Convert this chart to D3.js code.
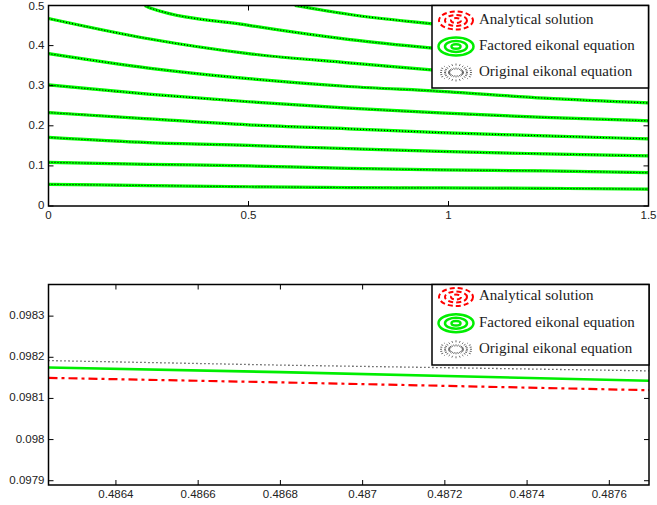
<!DOCTYPE html>
<html>
<head>
<meta charset="utf-8">
<script src="https://cdn.jsdelivr.net/npm/d3@7"></script>
<style>
  body { margin: 0; background: #fff; }
  svg { display: block; }
</style>
</head>
<body>
<div id="chart"></div>
<script>
// ---- data: top panel (contours of travel time) ----
const topXTicks = [0, 0.5, 1, 1.5];
const topYTicks = [0, 0.1, 0.2, 0.3, 0.4, 0.5];
const contourX = [0, 0.25, 0.5, 0.75, 0.98, 1.24, 1.5];
const contour1 = [0.054, 0.051, 0.048, 0.046, 0.045, 0.044, 0.042];
const contour2 = [0.109, 0.104, 0.100, 0.094, 0.090, 0.0875, 0.083];
const contour3 = [0.171, 0.158, 0.151, 0.143, 0.136, 0.130, 0.125];
const contour4 = [0.233, 0.2175, 0.2025, 0.1925, 0.183, 0.175, 0.1675];
const contour5 = [0.302, 0.279, 0.260, 0.244, 0.232, 0.221, 0.2125];
const contour6 = [0.380, 0.344, 0.3175, 0.298, 0.286, 0.269, 0.257];
const contour7 = [0.4675, 0.417, 0.380, 0.357, 0.3375, 0.320, 0.305];
const contour8X = [0.241, 0.254, 0.504, 0.754, 0.979, 1.236, 1.5];
const contour8 = [0.5, 0.494, 0.450, 0.415, 0.392, 0.370, 0.355];
const contour9X = [0.616, 0.754, 0.979, 1.236, 1.5];
const contour9 = [0.5, 0.4775, 0.4525, 0.430, 0.410];

// ---- data: bottom panel (zoom on one contour) ----
const zoomXTicks = [0.4864, 0.4866, 0.4868, 0.4870, 0.4872, 0.4874, 0.4876];
const zoomYTicks = [0.0979, 0.0980, 0.0981, 0.0982, 0.0983];
const zoomX = [0.486236, 0.4868, 0.4876965];
const analytical = [0.098150, 0.098139, 0.098120];
const factored = [0.098175, 0.098164, 0.098143];
const original = [0.098192, 0.098181, 0.098167];

const legendLabels = ['Analytical solution', 'Factored eikonal equation', 'Original eikonal equation'];

const W = 657, H = 505;
const svg = d3.select('#chart').append('svg')
    .attr('width', W)
    .attr('height', H);

const tickFont = "'Liberation Sans', Arial, Helvetica, sans-serif";
const legendFont = "'Liberation Serif', 'Times New Roman', serif";

function drawAxes(g, x, y, xTicks, yTicks, xFmt, yFmt) {
    let [x0, x1] = x.range();
    let [y0, y1] = y.range();
    // ticks (inside, on all four sides)
    xTicks.forEach(function (t) {
        g.append('line').attr('x1', x(t)).attr('x2', x(t)).attr('y1', y0).attr('y2', y0 - 5)
            .attr('stroke', '#000').attr('stroke-width', 1);
        g.append('line').attr('x1', x(t)).attr('x2', x(t)).attr('y1', y1).attr('y2', y1 + 5)
            .attr('stroke', '#000').attr('stroke-width', 1);
        g.append('text')
            .attr('x', x(t)).attr('y', y0 + 10)
            .attr('text-anchor', 'middle')
            .attr('dominant-baseline', 'middle')
            .style('font-family', tickFont).style('font-size', '11.5px').style('fill', '#222')
            .text(xFmt(t));
    });
    yTicks.forEach(function (t) {
        g.append('line').attr('x1', x0).attr('x2', x0 + 5).attr('y1', y(t)).attr('y2', y(t))
            .attr('stroke', '#000').attr('stroke-width', 1);
        g.append('line').attr('x1', x1).attr('x2', x1 - 5).attr('y1', y(t)).attr('y2', y(t))
            .attr('stroke', '#000').attr('stroke-width', 1);
        g.append('text')
            .attr('x', x0 - 4).attr('y', Math.max(y(t), 7))
            .attr('text-anchor', 'end')
            .attr('dominant-baseline', 'middle')
            .style('font-family', tickFont).style('font-size', '11.5px').style('fill', '#222')
            .text(yFmt(t));
    });
    g.append('rect')
        .attr('x', x0).attr('y', y1)
        .attr('width', x1 - x0).attr('height', y0 - y1)
        .attr('fill', 'none').attr('stroke', '#000').attr('stroke-width', 1.5);
}

function drawLegend(g, bx, by, bw, bh, rows) {
    g.append('rect')
        .attr('x', bx).attr('y', by).attr('width', bw).attr('height', bh)
        .attr('fill', '#fff').attr('stroke', '#000').attr('stroke-width', 1.5);
    let cx = bx + 24;
    rows.forEach(function (ry, i) {
        if (i === 0) {
            // red dashed ellipses
            [[17, 9], [11, 5.5], [5, 2.5]].forEach(function (r) {
                g.append('ellipse').attr('cx', cx).attr('cy', ry).attr('rx', r[0]).attr('ry', r[1])
                    .attr('fill', 'none').attr('stroke', '#ff0000').attr('stroke-width', 2)
                    .attr('stroke-dasharray', '5,3');
            });
        } else if (i === 1) {
            // green concentric ellipses
            [[17.5, 9], [11, 5.5], [4.5, 2.3]].forEach(function (r) {
                g.append('ellipse').attr('cx', cx).attr('cy', ry).attr('rx', r[0]).attr('ry', r[1])
                    .attr('fill', 'none').attr('stroke', '#00ee00').attr('stroke-width', 2.5);
            });
        } else {
            // black dotted radial strokes
            d3.range(0, 24).forEach(function (k) {
                let a = k / 24 * 2 * Math.PI;
                let ca = Math.cos(a), sa = Math.sin(a);
                g.append('line')
                    .attr('x1', cx + ca * 6).attr('y1', ry + sa * 3)
                    .attr('x2', cx + ca * 17).attr('y2', ry + sa * 9)
                    .attr('stroke', '#444').attr('stroke-width', 0.8)
                    .attr('stroke-dasharray', '2,2');
            });
        }
        g.append('text')
            .attr('x', bx + 47).attr('y', ry)
            .attr('dominant-baseline', 'middle')
            .style('font-family', legendFont).style('font-size', '15px').style('fill', '#222')
            .text(legendLabels[i]);
    });
}

// ================= top panel =================
const xTop = d3.scaleLinear().domain([0, 1.5]).range([48.5, 648.5]);
const yTop = d3.scaleLinear().domain([0, 0.5]).range([206, 5.5]);
const gTop = svg.append('g');

gTop.append('clipPath').attr('id', 'clipTop')
    .append('rect').attr('x', 48.5).attr('y', 5.5).attr('width', 600).attr('height', 200.5);

const contours = [
    [contourX, contour1], [contourX, contour2], [contourX, contour3],
    [contourX, contour4], [contourX, contour5], [contourX, contour6],
    [contourX, contour7], [contour8X, contour8], [contour9X, contour9]
];
const lineTop = d3.line()
    .x(function (d) { return xTop(d[0]); })
    .y(function (d) { return yTop(d[1]); })
    .curve(d3.curveMonotoneX);

const topLines = gTop.append('g').attr('clip-path', 'url(#clipTop)');
contours.forEach(function (c) {
    let pts = c[0].map(function (v, i) { return [v, c[1][i]]; });
    topLines.append('path').attr('d', lineTop(pts))
        .attr('fill', 'none').attr('stroke', '#ff0000').attr('stroke-width', 2)
        .attr('stroke-dasharray', '8,3,2,3');
    topLines.append('path').attr('d', lineTop(pts))
        .attr('fill', 'none').attr('stroke', '#00ff00').attr('stroke-width', 3.2);
    topLines.append('path').attr('d', lineTop(pts))
        .attr('fill', 'none').attr('stroke', '#000').attr('stroke-width', 1.2)
        .attr('stroke-dasharray', '1,2');
});

drawAxes(gTop, xTop, yTop, topXTicks, topYTicks, d3.format('~g'), d3.format('~g'));
drawLegend(gTop, 432, 5.5, 216.5, 82.5, [20.5, 46.5, 72.5]);

// ================= bottom panel =================
const xBot = d3.scaleLinear().domain([0.486236, 0.4876965]).range([48.5, 649]);
const yBot = d3.scaleLinear().domain([0.0978896, 0.0983769]).range([485, 284.5]);
const gBot = svg.append('g');

const lineBot = d3.line()
    .x(function (d) { return xBot(d[0]); })
    .y(function (d) { return yBot(d[1]); });

function series(vals) { return zoomX.map(function (v, i) { return [v, vals[i]]; }); }

gBot.append('path').attr('d', lineBot(series(analytical)))
    .attr('fill', 'none').attr('stroke', '#ff0000').attr('stroke-width', 2.2)
    .attr('stroke-dasharray', '9,4,3,4');
gBot.append('path').attr('d', lineBot(series(factored)))
    .attr('fill', 'none').attr('stroke', '#00ee00').attr('stroke-width', 2.6);
gBot.append('path').attr('d', lineBot(series(original)))
    .attr('fill', 'none').attr('stroke', '#000').attr('stroke-width', 1.3)
    .attr('stroke-dasharray', '1,3');

drawAxes(gBot, xBot, yBot, zoomXTicks, zoomYTicks, d3.format('.4'), d3.format('.4~f'));
drawLegend(gBot, 432, 284.5, 217, 80.5, [297, 323.3, 349.3]);
</script>
</body>
</html>
